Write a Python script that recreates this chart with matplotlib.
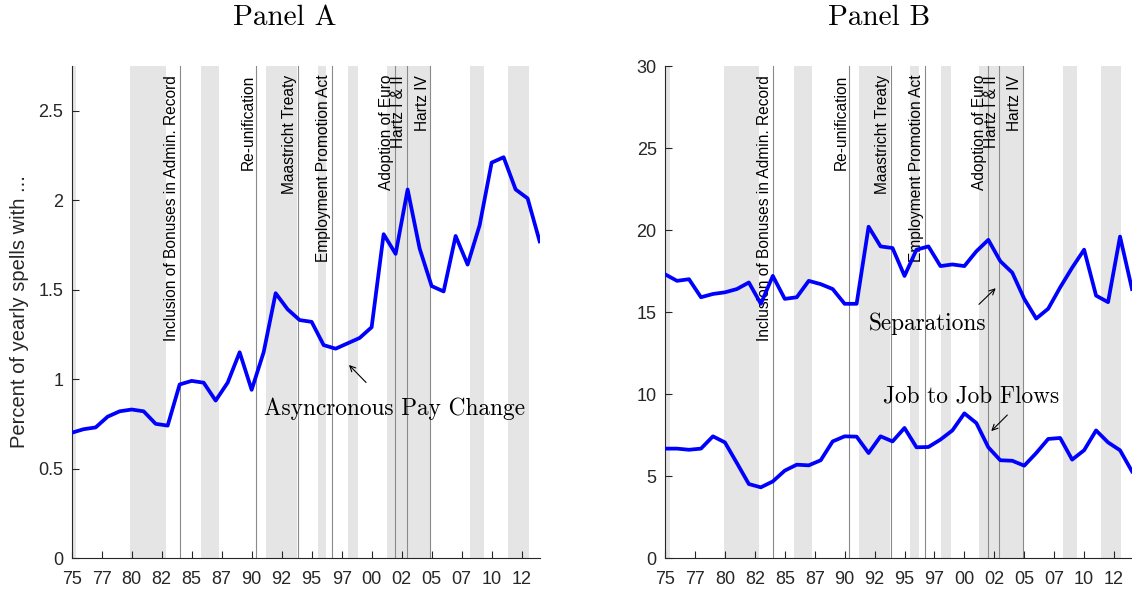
import matplotlib
matplotlib.use('Agg')
import matplotlib.pyplot as plt
import matplotlib.transforms as mtransforms
import numpy as np

plt.rcParams['font.family'] = ['Liberation Sans', 'DejaVu Sans']

# yearly data 1975-2014
years = np.arange(1975, 2015)

async_pay = [0.70, 0.72, 0.73, 0.79, 0.82, 0.83, 0.82, 0.75, 0.74, 0.97,
             0.99, 0.98, 0.88, 0.98, 1.15, 0.94, 1.15, 1.48, 1.39, 1.33,
             1.32, 1.19, 1.17, 1.20, 1.23, 1.29, 1.81, 1.70, 2.06, 1.73,
             1.52, 1.49, 1.80, 1.64, 1.86, 2.21, 2.24, 2.06, 2.01, 1.77]

separations = [17.3, 16.9, 17.0, 15.9, 16.1, 16.2, 16.4, 16.8, 15.5, 17.2,
               15.8, 15.9, 16.9, 16.7, 16.4, 15.5, 15.5, 20.2, 19.0, 18.9,
               17.2, 18.8, 19.0, 17.8, 17.9, 17.8, 18.7, 19.4, 18.1, 17.4,
               15.8, 14.6, 15.2, 16.5, 17.7, 18.8, 16.0, 15.6, 19.6, 16.4]

job_to_job = [6.67, 6.67, 6.60, 6.67, 7.42, 7.05, 5.79, 4.51, 4.31, 4.67,
              5.33, 5.69, 5.65, 5.96, 7.11, 7.42, 7.40, 6.40, 7.42, 7.11,
              7.93, 6.75, 6.77, 7.22, 7.78, 8.82, 8.23, 6.75, 5.96, 5.93,
              5.63, 6.40, 7.26, 7.32, 6.00, 6.57, 7.78, 7.05, 6.57, 5.28]

# shaded periods (start, end)
bands = [(1975.0, 1975.4), (1979.9, 1982.85), (1985.75, 1987.3),
         (1991.2, 1993.8), (1995.5, 1996.2), (1998.05, 1998.9),
         (2001.25, 2004.9), (2008.2, 2009.4), (2011.4, 2013.1)]

events = [1984.0, 1990.36, 1993.83, 1996.7, 2001.95, 2002.93, 2004.9]
event_names = ['Inclusion of Bonuses in Admin. Record', 'Re-unification',
               'Maastricht Treaty', 'Employment Promotion Act',
               'Adoption of Euro', 'Hartz I & II', 'Hartz IV']

xticks = 1975 + 2.5 * np.arange(16)
xlabels = ['75', '77', '80', '82', '85', '87', '90', '92', '95', '97',
           '00', '02', '05', '07', '10', '12']

axcol = '#262626'


def setup(ax):
    for b in bands:
        ax.axvspan(b[0], b[1], color='#e5e5e5', lw=0, zorder=0)
    trans = mtransforms.blended_transform_factory(ax.transData, ax.transAxes)
    for e, name in zip(events, event_names):
        ax.axvline(e, color='#8a8a8a', lw=0.8, zorder=1)
        ax.text(e - 0.05, 0.982, name, transform=trans, rotation=90,
                ha='right', va='top', fontsize=11.2, color='k', zorder=2)
    ax.set_xlim(1975, 2014)
    ax.set_xticks(xticks)
    ax.set_xticklabels(xlabels)
    ax.spines['top'].set_visible(False)
    ax.spines['right'].set_visible(False)
    for s in ['left', 'bottom']:
        ax.spines[s].set_color(axcol)
        ax.spines[s].set_linewidth(0.8)
    ax.tick_params(direction='in', length=5, width=0.8, color=axcol,
                   labelcolor=axcol, labelsize=13)
    ax.tick_params(axis='x', pad=9)
    ax.tick_params(axis='y', pad=6)


fig = plt.figure(figsize=(11.32, 5.93), dpi=100)
ax1 = fig.add_axes([0.0633, 0.059, 0.4134, 0.8297])
ax2 = fig.add_axes([0.5875, 0.059, 0.4125, 0.8297])

# Panel A
setup(ax1)
ax1.plot(years, async_pay, color='#0000ff', lw=2.7, zorder=3)
ax1.set_ylim(0, 2.75)
ax1.set_yticks([0, 0.5, 1, 1.5, 2, 2.5])
ax1.set_yticklabels(['0', '0.5', '1', '1.5', '2', '2.5'])
ax1.set_ylabel('Percent of yearly spells with ...', fontsize=14.5,
               color=axcol, labelpad=7)
ax1.annotate('', xy=(1997.95, 1.09), xytext=(1999.7, 0.97),
             arrowprops=dict(arrowstyle='->', lw=0.8, color='k'))
ax1.text(2001.9, 0.833, 'Asyncronous Pay Change', family='cmr10',
         fontsize=16.8, ha='center', va='center')

# Panel B
setup(ax2)
ax2.plot(years, separations, color='#0000ff', lw=2.7, zorder=3)
ax2.plot(years, job_to_job, color='#0000ff', lw=2.7, zorder=3)
ax2.set_ylim(0, 30)
ax2.set_yticks([0, 5, 10, 15, 20, 25, 30])
ax2.annotate('', xy=(2002.78, 16.57), xytext=(2001.05, 15.35),
             arrowprops=dict(arrowstyle='->', lw=0.8, color='k'))
ax2.text(1996.9, 14.3, 'Separations', family='cmr10',
         fontsize=16.8, ha='center', va='center')
ax2.annotate('', xy=(2002.08, 7.62), xytext=(2003.75, 8.84),
             arrowprops=dict(arrowstyle='->', lw=0.8, color='k'))
ax2.text(2000.6, 9.84, 'Job to Job Flows', family='cmr10',
         fontsize=16.8, ha='center', va='center')

fig.text(0.2518, 0.97, 'Panel A', family='cmr10', fontsize=21,
         ha='center', va='center')
fig.text(0.7765, 0.97, 'Panel B', family='cmr10', fontsize=21,
         ha='center', va='center')

fig.savefig('out.png', dpi=100)
